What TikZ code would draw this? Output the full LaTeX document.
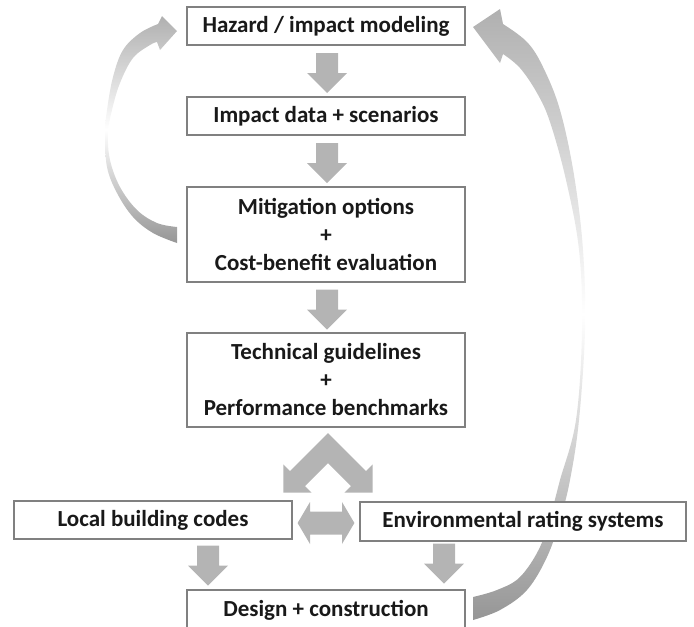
\documentclass[tikz,border=0pt]{standalone}
\usepackage{fontspec}
\setmainfont{Carlito}
\usetikzlibrary{calc}
\definecolor{agray}{RGB}{180,180,180}
\definecolor{bordergray}{RGB}{128,128,128}
\definecolor{cdark}{RGB}{150,150,150}
\definecolor{clight}{RGB}{176,176,176}
\begin{document}
\begin{tikzpicture}[x=1pt,y=-1pt,
  box/.style={draw=bordergray, line width=1.2pt, fill=white, minimum width=278pt,
    minimum height=38pt, inner sep=0pt, align=center,
    font=\fontsize{23}{28}\selectfont\bfseries, text=black!90},
  tallbox/.style={box, minimum height=95pt},
  downarr/.pic={\fill[agray] (-11,-20) -- (11,-20) -- (11,0) -- (20,0) -- (0,20) -- (-20,0) -- (-11,0) -- cycle;},
  curvearr/.style={top color=clight, bottom color=cdark, middle color=white, draw=none}
]
\useasboundingbox (0,0) rectangle (694,627);
\clip (0,0) rectangle (694,627);

% curved feedback arrows
\shade[curvearr]
  plot[smooth, tension=0.6] coordinates {(177,243) (153,233) (133,217) (117,193) (107,167) (105,133) (107,110) (113,77) (123,50) (140,33) (158,24)}
  -- (162,16) -- (177,31) -- (160,50)
  -- plot[smooth, tension=0.6] coordinates {(157,42) (150,45) (133,58) (120,83) (112,110) (108,133) (110,160) (120,187) (137,210) (157,223) (177,227)}
  -- cycle;

\shade[curvearr]
  plot[smooth, tension=0.6] coordinates {(473,620) (500,610) (527,590) (547,557) (560,520) (570,480) (579,420) (585,330) (583,250) (574,175) (560,110) (543,67) (527,42) (503,24)}
  -- (500,9) -- (473,27) -- (500,63)
  -- plot[smooth, tension=0.6] coordinates {(503,54) (520,68) (537,93) (550,122) (566,180) (579,250) (582,330) (576,420) (560,480) (552,510) (540,547) (520,577) (497,590) (473,597)}
  -- cycle;

% boxes
\node[box] (hz) at (326,26) {Hazard / impact modeling};
\node[box] (im) at (326,116) {Impact data + scenarios};
\node[tallbox] (mit) at (326,234.5) {Mitigation options\\+\\Cost-benefit evaluation};
\node[tallbox, minimum height=94pt] (tech) at (326,380) {Technical guidelines\\+\\Performance benchmarks};
\node[box] (loc) at (153,520) {Local building codes};
\node[box, minimum width=326pt, minimum height=39pt] (env) at (523,521.5) {Environmental rating systems};
\node[box, minimum height=40pt] (des) at (326,610) {Design + construction};

% block arrows
\pic at ($(hz.south)!.5!(im.north)+(1,2)$) {downarr};
\pic at ($(im.south)!.5!(mit.north)+(1,2)$) {downarr};
\pic at ($(mit.south)!.5!(tech.north)+(1,2)$) {downarr};
\pic at ($(loc.south)!.5!(loc.south|-des.north)+(55,1)$) {downarr};
\pic at ($(env.south)!.5!(env.south|-des.north)+(-79,-2)$) {downarr};

% split chevron below technical box
\fill[agray] (328,433) -- (366,471) -- (372.6,464.4) -- (372.6,492.6) -- (344.4,492.6) -- (351,486)
  -- (328,463) -- (305,486) -- (311.6,492.6) -- (283.4,492.6) -- (283.4,464.4) -- (290,471) -- cycle;

% double arrow between codes and rating systems
\fill[agray] ($(loc.east)+(5,3)$) -- (310,502) -- (310,511.5) -- (342,511.5) -- (342,502)
  -- ($(env.west)+(-5,1.5)$) -- (342,544) -- (342,534.5) -- (310,534.5) -- (310,544) -- cycle;
\end{tikzpicture}
\end{document}
